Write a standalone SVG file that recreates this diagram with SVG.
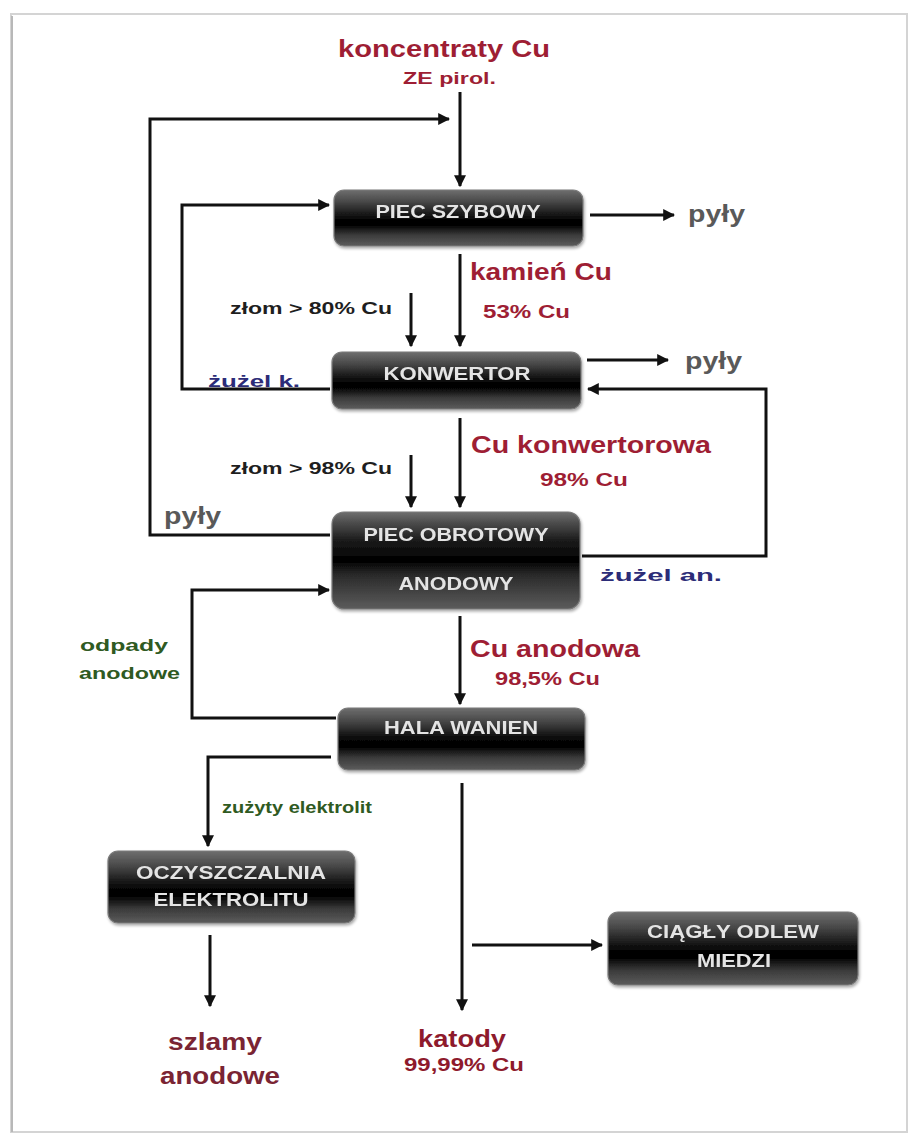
<svg xmlns="http://www.w3.org/2000/svg" width="910" height="1135" viewBox="0 0 910 1135">
<defs>
<linearGradient id="g" x1="0" y1="0" x2="0" y2="1">
<stop offset="0" stop-color="#6e6e6e"/>
<stop offset="0.2" stop-color="#4a4a4a"/>
<stop offset="0.5" stop-color="#080808"/>
<stop offset="0.62" stop-color="#000"/>
<stop offset="0.8" stop-color="#3a3a3a"/>
<stop offset="1" stop-color="#5c5c5c"/>
</linearGradient>
<linearGradient id="g2" x1="0" y1="0" x2="0" y2="1">
<stop offset="0" stop-color="#6e6e6e"/>
<stop offset="0.12" stop-color="#4a4a4a"/>
<stop offset="0.3" stop-color="#1a1a1a"/>
<stop offset="0.5" stop-color="#000"/>
<stop offset="0.65" stop-color="#2a2a2a"/>
<stop offset="1" stop-color="#5c5c5c"/>
</linearGradient>
<marker id="a" viewBox="0 0 10 10" refX="9" refY="5" markerWidth="4" markerHeight="4" orient="auto" markerUnits="strokeWidth">
<path d="M0,0 L10,5 L0,10 z" fill="#111"/>
</marker>
<filter id="sh" x="-5%" y="-5%" width="110%" height="120%">
<feGaussianBlur in="SourceAlpha" stdDeviation="1.5"/>
<feOffset dx="1" dy="2"/>
<feComponentTransfer><feFuncA type="linear" slope="0.35"/></feComponentTransfer>
<feMerge><feMergeNode/><feMergeNode in="SourceGraphic"/></feMerge>
</filter>
</defs>
<style>
.box{fill:url(#g);stroke:#7a7a7a;stroke-width:1.2}
.box2{fill:url(#g2);stroke:#7a7a7a;stroke-width:1.2}
.nt{font-family:"Liberation Sans",Arial,sans-serif;font-weight:bold;font-size:18px;fill:#e4e4e4;text-anchor:middle}
.ln{fill:none;stroke:#111;stroke-width:3}
.ar{marker-end:url(#a)}
.t{font-family:"Liberation Sans",Arial,sans-serif;font-weight:bold}
.red{fill:#9e1e34}
.grey{fill:#595959}
.blue{fill:#2c2c78}
.green{fill:#2f5a22}
.blk{fill:#1e1e1e}
.dk{fill:#7a2433}
</style>
<rect x="0" y="0" width="910" height="1135" fill="#fff"/>
<rect x="11" y="14" width="896" height="1118" fill="none" stroke="#d4d4d4" stroke-width="2"/>
<line x1="12" y1="16" x2="12" y2="1132" stroke="#b8b8b8" stroke-width="2"/>

<g id="connectors">
<path class="ln ar" d="M460,92 V186"/>
<path class="ln ar" d="M330,535 H150 V119 H449"/>
<path class="ln ar" d="M590,215 H674"/>
<path class="ln ar" d="M330,389 H182 V205 H329"/>
<path class="ln ar" d="M460,254 V346"/>
<path class="ln ar" d="M411,293 V346"/>
<path class="ln ar" d="M587,360 H668"/>
<path class="ln ar" d="M582,556 H766 V389 H588"/>
<path class="ln ar" d="M460,418 V507"/>
<path class="ln ar" d="M411,455 V507"/>
<path class="ln ar" d="M336,718 H192 V590 H329"/>
<path class="ln ar" d="M460,616 V704"/>
<path class="ln ar" d="M331,757 H208 V846"/>
<path class="ln ar" d="M210,935 V1006"/>
<path class="ln ar" d="M462,783 V1010"/>
<path class="ln ar" d="M472,945 H602"/>
</g>

<g id="n1" filter="url(#sh)">
<rect class="box" x="334" y="190" width="249" height="56" rx="10"/>
<text class="nt" x="458" y="218" textLength="165" lengthAdjust="spacingAndGlyphs">PIEC SZYBOWY</text>
</g>
<g id="n2" filter="url(#sh)">
<rect class="box" x="332" y="352" width="249" height="57" rx="10"/>
<text class="nt" x="457" y="380" textLength="147" lengthAdjust="spacingAndGlyphs">KONWERTOR</text>
</g>
<g id="n3" filter="url(#sh)">
<rect class="box2" x="332" y="512" width="248" height="97" rx="12"/>
<text class="nt" x="456" y="541" textLength="185" lengthAdjust="spacingAndGlyphs">PIEC OBROTOWY</text>
<text class="nt" x="456" y="590" textLength="115" lengthAdjust="spacingAndGlyphs">ANODOWY</text>
</g>
<g id="n4" filter="url(#sh)">
<rect class="box" x="338" y="708" width="247" height="62" rx="10"/>
<text class="nt" x="461" y="734" textLength="154" lengthAdjust="spacingAndGlyphs">HALA WANIEN</text>
</g>
<g id="n5" filter="url(#sh)">
<rect class="box" x="108" y="851" width="247" height="72" rx="10"/>
<text class="nt" x="231" y="879" textLength="190" lengthAdjust="spacingAndGlyphs">OCZYSZCZALNIA</text>
<text class="nt" x="231" y="906" textLength="155" lengthAdjust="spacingAndGlyphs">ELEKTROLITU</text>
</g>
<g id="n6" filter="url(#sh)">
<rect class="box" x="608" y="912" width="250" height="73" rx="10"/>
<text class="nt" x="733" y="938" textLength="172" lengthAdjust="spacingAndGlyphs">CIĄGŁY ODLEW</text>
<text class="nt" x="734" y="967" textLength="74" lengthAdjust="spacingAndGlyphs">MIEDZI</text>
</g>

<g id="labels">
<text class="t red" x="338" y="57" font-size="23" textLength="212" lengthAdjust="spacingAndGlyphs">koncentraty Cu</text>
<text class="t red" x="403" y="84" font-size="17" textLength="93" lengthAdjust="spacingAndGlyphs">ZE pirol.</text>
<text class="t grey" x="688" y="222" font-size="23" textLength="57" lengthAdjust="spacingAndGlyphs">pyły</text>
<text class="t red" x="470" y="280" font-size="23" textLength="142" lengthAdjust="spacingAndGlyphs">kamień Cu</text>
<text class="t red" x="483" y="318" font-size="18" textLength="87" lengthAdjust="spacingAndGlyphs">53% Cu</text>
<text class="t blk" x="230" y="314" font-size="16" textLength="162" lengthAdjust="spacingAndGlyphs">złom &gt; 80% Cu</text>
<text class="t blue" x="208" y="387" font-size="16" textLength="92" lengthAdjust="spacingAndGlyphs">żużel k.</text>
<text class="t grey" x="685" y="369" font-size="23" textLength="57" lengthAdjust="spacingAndGlyphs">pyły</text>
<text class="t red" x="471" y="453" font-size="23" textLength="240" lengthAdjust="spacingAndGlyphs">Cu konwertorowa</text>
<text class="t red" x="540" y="486" font-size="18" textLength="88" lengthAdjust="spacingAndGlyphs">98% Cu</text>
<text class="t blk" x="230" y="474" font-size="16" textLength="162" lengthAdjust="spacingAndGlyphs">złom &gt; 98% Cu</text>
<text class="t grey" x="164" y="524" font-size="23" textLength="57" lengthAdjust="spacingAndGlyphs">pyły</text>
<text class="t blue" x="600" y="581" font-size="17" textLength="122" lengthAdjust="spacingAndGlyphs">żużel an.</text>
<text class="t green" x="80" y="651" font-size="17" textLength="88" lengthAdjust="spacingAndGlyphs">odpady</text>
<text class="t green" x="79" y="679" font-size="17" textLength="101" lengthAdjust="spacingAndGlyphs">anodowe</text>
<text class="t red" x="470" y="657" font-size="23" textLength="170" lengthAdjust="spacingAndGlyphs">Cu anodowa</text>
<text class="t red" x="495" y="685" font-size="18" textLength="105" lengthAdjust="spacingAndGlyphs">98,5% Cu</text>
<text class="t green" x="222" y="813" font-size="16" textLength="150" lengthAdjust="spacingAndGlyphs">zużyty elektrolit</text>
<text class="t dk" x="168" y="1050" font-size="24" textLength="94" lengthAdjust="spacingAndGlyphs">szlamy</text>
<text class="t dk" x="160" y="1084" font-size="24" textLength="120" lengthAdjust="spacingAndGlyphs">anodowe</text>
<text class="t" fill="#8e1a2c" x="418" y="1047" font-size="24" textLength="88" lengthAdjust="spacingAndGlyphs">katody</text>
<text class="t" fill="#8e1a2c" x="404" y="1071" font-size="18" textLength="120" lengthAdjust="spacingAndGlyphs">99,99% Cu</text>
</g>
</svg>
